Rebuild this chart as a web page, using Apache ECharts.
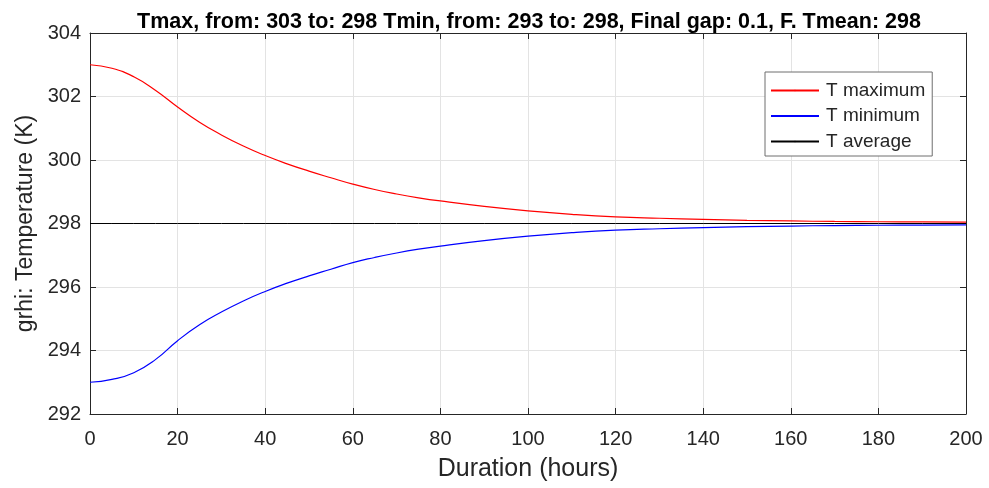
<!DOCTYPE html>
<html>
<head>
<meta charset="utf-8">
<script src="https://cdn.jsdelivr.net/npm/echarts@6/dist/echarts.min.js"></script>
<style>html,body{margin:0;padding:0;background:#fff;}#c{width:989px;height:488px;}</style>
</head>
<body>
<div id="c"></div>
<script>
const hours = [0,5,10,15,20,25,30,35,40,45,50,55,60,65,70,75,80,90,100,110,120,130,140,150,160,170,180,190,200];
const tMax = [303.00,302.89,302.62,302.19,301.67,301.19,300.79,300.44,300.14,299.88,299.65,299.44,299.24,299.07,298.93,298.81,298.71,298.54,298.40,298.29,298.21,298.165,298.13,298.10,298.08,298.065,298.055,298.05,298.045];
const tMin = [293.00,293.09,293.30,293.72,294.31,294.81,295.21,295.56,295.86,296.12,296.35,296.56,296.77,296.93,297.07,297.19,297.29,297.46,297.60,297.71,297.79,297.835,297.87,297.90,297.92,297.935,297.945,297.95,297.955];
const tAvg = [298,298,298,298,298,298,298,298,298,298,298,298,298,298,298,298,298,298,298,298,298,298,298,298,298,298,298,298,298];
const seriesNames = ['T maximum','T minimum','T average'];
const titleText = 'Tmax, from: 303 to: 298 Tmin, from: 293 to: 298, Final gap: 0.1, F. Tmean: 298';
const xName = 'Duration (hours)';
const yName = 'grhi: Temperature (K)';

const pairs = arr => hours.map((h,i)=>[h, arr[i]]);
const font = 'Liberation Sans, Arial, Helvetica, sans-serif';
const axisCol = '#262626';

const chart = echarts.init(document.getElementById('c'), null, {renderer:'canvas'});
chart.setOption({
  animation:false,
  backgroundColor:'#fff',
  title:{text:titleText, left:524, top:6, textAlign:'center',
    textStyle:{fontFamily:font, fontSize:21.5, fontWeight:'bold', color:'#000'}},
  grid:{left:90, right:23, top:33, bottom:74, containLabel:false},
  legend:{orient:'vertical', left:765, top:72, data:seriesNames,
    backgroundColor:'#fff', borderColor:'#6e6e6e', borderWidth:1, padding:[9,7,5,5],
    itemWidth:48, itemHeight:2, itemGap:6.5,
    textStyle:{fontFamily:font, fontSize:19, color:axisCol, padding:[0,0,0,2]}},
  xAxis:[{type:'value', min:0, max:200, interval:20, name:xName, nameLocation:'middle', nameGap:43,
    nameTextStyle:{fontFamily:font, fontSize:25, color:axisCol},
    axisLine:{onZero:false, lineStyle:{color:axisCol}},
    axisTick:{inside:true, length:6, lineStyle:{color:axisCol}},
    axisLabel:{fontFamily:font, fontSize:20, color:axisCol, margin:15},
    splitLine:{show:true, lineStyle:{color:'#e3e3e3'}}},
   {type:'value', position:'top', min:0, max:200, interval:20,
    axisLine:{onZero:false, lineStyle:{color:axisCol}},
    axisTick:{inside:true, length:6, lineStyle:{color:axisCol}},
    axisLabel:{show:false}, splitLine:{show:false}}],
  yAxis:[{type:'value', min:292, max:304, interval:2, name:yName, nameLocation:'middle', nameGap:38,
    nameTextStyle:{fontFamily:font, fontSize:23, color:axisCol},
    axisLine:{show:true, onZero:false, lineStyle:{color:axisCol}},
    axisTick:{show:true, inside:true, length:6, lineStyle:{color:axisCol}},
    axisLabel:{fontFamily:font, fontSize:20, color:axisCol, margin:9},
    splitLine:{show:true, lineStyle:{color:'#e3e3e3'}}},
   {type:'value', position:'right', min:292, max:304, interval:2,
    axisLine:{show:true, onZero:false, lineStyle:{color:axisCol}},
    axisTick:{show:true, inside:true, length:6, lineStyle:{color:axisCol}},
    axisLabel:{show:false}, splitLine:{show:false}}],
  series:[
    {name:seriesNames[0], type:'line', data:pairs(tMax), smooth:0.5, symbol:'none', lineStyle:{color:'#ff0000', width:1.2}, itemStyle:{color:'#ff0000'}},
    {name:seriesNames[1], type:'line', data:pairs(tMin), smooth:0.5, symbol:'none', lineStyle:{color:'#0000ff', width:1.2}, itemStyle:{color:'#0000ff'}},
    {name:seriesNames[2], type:'line', data:pairs(tAvg), symbol:'none', lineStyle:{color:'#000000', width:1}, itemStyle:{color:'#000000'}}
  ]
});
</script>
</body>
</html>
